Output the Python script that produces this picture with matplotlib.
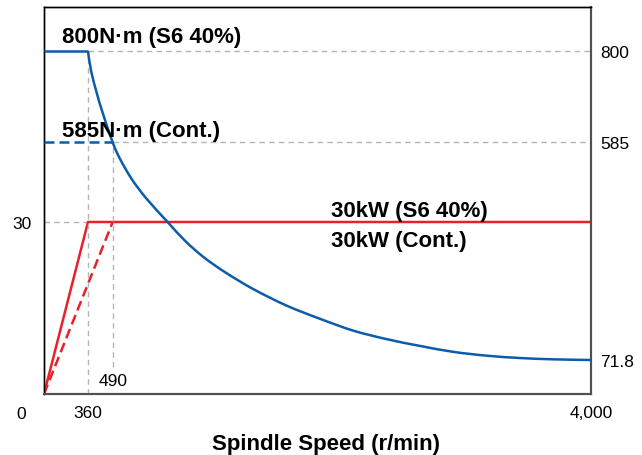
import numpy as np
import matplotlib
matplotlib.use("Agg")
import matplotlib.pyplot as plt
from matplotlib.path import Path
from matplotlib.patches import PathPatch

plt.rcParams['font.family'] = ['Liberation Sans', 'DejaVu Sans']

# torque curve (r/min, N·m)
curve_rpm = [360, 377, 409, 435, 490, 544, 629, 734, 891, 1021, 1155, 1314,
             1522, 1767, 2011, 2256, 2501, 2745, 2990, 3235, 3479, 3724, 4000]
curve_torque = [800, 752, 697, 658, 585, 546, 499, 454, 398, 353, 315, 279,
                239, 200, 169, 141, 121, 105, 91, 82, 76.5, 73.4, 71.8]

torque_max = 800       # S6 40%
torque_cont = 585      # continuous
power = 30             # kW
base_s6 = 360
base_cont = 490
speed_max = 4000

blue = '#0b5cab'
red = '#e8202a'
grey = '#b4b4b4'

# the drawing is not to scale on x: stretch the low-speed part
knots_rpm = [0, base_s6, base_cont, speed_max]
knots_pos = [0, 44, 68.7, 547]


def fwd(x):
    return np.interp(x, knots_rpm, knots_pos)


def inv(x):
    return np.interp(x, knots_pos, knots_rpm)


def smooth_path(xs, ys):
    # catmull-rom through the points, as bezier segments (like a smoothed line)
    pts = np.column_stack([fwd(np.asarray(xs, float)), np.asarray(ys, float)])
    n = len(pts)
    verts = [pts[0]]
    codes = [Path.MOVETO]
    for i in range(n - 1):
        p0 = pts[max(i - 1, 0)]
        p1 = pts[i]
        p2 = pts[i + 1]
        p3 = pts[min(i + 2, n - 1)]
        verts += [p1 + (p2 - p0) / 6, p2 - (p3 - p1) / 6, p2]
        codes += [Path.CURVE4] * 3
    verts = np.array(verts)
    verts[:, 0] = inv(verts[:, 0])
    return Path(verts, codes)


fig = plt.figure(figsize=(6.42, 4.56), dpi=100)
ax = fig.add_axes([44 / 642, 1 - 395 / 456, 547 / 642, 387 / 456])
ax2 = ax.twinx()

ax.set_xscale('function', functions=(fwd, inv))
ax.set_xlim(0, speed_max)
ax.set_ylim(0, 67.5)
ax2.set_ylim(-8.4, 904.5)

gkw = dict(color=grey, lw=1, dashes=(4, 3), zorder=1)

# guide lines
ax.plot([0, base_s6], [power, power], **gkw)
ax2.plot([base_s6, speed_max], [torque_max, torque_max], **gkw)
ax2.plot([base_cont, speed_max], [torque_cont, torque_cont], **gkw)
lo, hi = ax2.get_ylim()
ax2.axvline(base_s6, ymin=0, ymax=(torque_max - lo) / (hi - lo), **gkw)
ax2.axvline(base_cont, ymin=0.07, ymax=(torque_cont - lo) / (hi - lo), **gkw)

# power
ax.plot([0, base_s6, speed_max], [0, power, power], color=red, lw=1.8,
        zorder=3)
ax.plot([0, base_cont], [0, power], color=red, lw=1.8, dashes=(4, 2),
        zorder=3)

# torque
ax2.plot([0, base_s6], [torque_max, torque_max], color=blue, lw=1.8,
         zorder=3, solid_capstyle='butt')
ax2.add_patch(PathPatch(smooth_path(curve_rpm, curve_torque), fill=False,
                        edgecolor=blue, lw=1.8, zorder=3))
ax2.plot([0, base_cont], [torque_cont, torque_cont], color=blue, lw=1.8,
         dashes=(4, 2), zorder=3)

# ticks
ax.set_yticks([power])
ax.set_yticklabels(['30'])
ax2.set_yticks([torque_max, torque_cont, 71.8])
ax2.set_yticklabels(['800', '585', '71.8'])
ax.set_xticks([base_s6, speed_max])
ax.set_xticklabels(['360', '4,000'])
ax.tick_params(axis='y', length=0, pad=9, labelsize=12.5)
ax2.tick_params(axis='y', length=0, pad=6.5, labelsize=12.5)
ax.tick_params(axis='x', length=0, pad=8, labelsize=12.5)

ax.annotate('0', xy=(0, 0), xycoords=('data', 'axes fraction'),
            xytext=(-23, -20), textcoords='offset pixels',
            ha='center', va='center', fontsize=12.5)
ax.annotate('490', xy=(base_cont, 0), xycoords=('data', 'axes fraction'),
            xytext=(0, 13), textcoords='offset pixels',
            ha='center', va='center', fontsize=12.5)

for a in (ax, ax2):
    a.spines['left'].set_color('black')
    a.spines['top'].set_color('black')
    a.spines['left'].set_linewidth(1)
    a.spines['top'].set_linewidth(1)
    a.spines['right'].set_color('#505050')
    a.spines['bottom'].set_color('#505050')
    a.spines['right'].set_linewidth(1.5)
    a.spines['bottom'].set_linewidth(1.5)

# labels
tkw = dict(fontsize=16, fontweight='bold', ha='left', va='baseline')
ax2.text(150, 821, '800N·m (S6 40%)', **tkw)
ax2.text(150, 601, '585N·m (Cont.)', **tkw)
ax.text(2090, 31.1, '30kW (S6 40%)', **tkw)
ax.text(2090, 25.9, '30kW (Cont.)', **tkw)

ax.set_xlabel('Spindle Speed (r/min)', fontsize=16, fontweight='bold',
              labelpad=9.5, x=0.5155)

fig.savefig('out.png', dpi=100)
